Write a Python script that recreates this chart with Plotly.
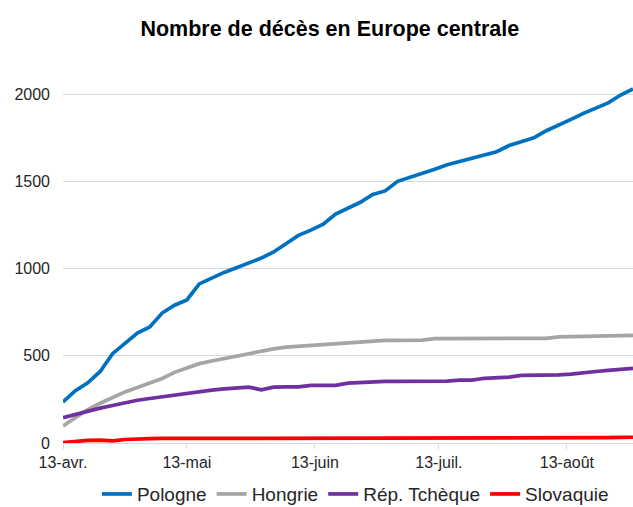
import pandas as pd
import plotly.graph_objects as go

# Dates every 3 days from 13 April to 29 August
dates = pd.date_range("2020-04-13", periods=47, freq="3D")

pologne = [235, 300, 345, 410, 512, 570, 630, 665, 745, 790, 820, 912, 945, 978, 1005, 1030,
           1060, 1095, 1145, 1190, 1220, 1255, 1313, 1345, 1380, 1425, 1445, 1500, 1522, 1545,
           1570, 1595, 1615, 1630, 1655, 1670, 1705, 1728, 1750, 1790, 1820, 1855, 1890, 1920,
           1950, 1995, 2030]
hongrie = [98, 145, 192, 228, 262, 293, 318, 345, 370, 405, 428, 455, 470, 485, 500, 515,
           528, 540, 550, 555, 560, 567, 570, 575, 578, 585, 588, 588, 588, 590,
           598, 598, 598, 598, 598, 598, 598, 598, 598, 600, 608, 610, 611, 611,
           615, 616, 617]
tcheque = [145, 165, 184, 200, 215, 232, 245, 255, 265, 275, 288, 295, 303, 310, 316, 320,
           305, 320, 322, 322, 330, 330, 330, 343, 348, 353, 353, 353, 353, 353,
           353, 355, 360, 360, 371, 372, 378, 388, 388, 390, 390, 395, 405, 410,
           416, 422, 428]
slovaquie = [2, 10, 15, 17, 12, 20, 24, 25, 26, 26, 27, 28, 28, 28, 28, 28,
             28, 28, 28, 28, 28, 28, 28, 28, 28, 28, 28, 28, 28, 28,
             28, 28, 28, 28, 28, 28, 28, 28, 28, 28, 28, 28, 31, 31,
             31, 32, 33]

series = [
    ("Pologne", pologne, "#0070C0"),
    ("Hongrie", hongrie, "#A5A5A5"),
    ("Rép. Tchèque", tcheque, "#7030A0"),
    ("Slovaquie", slovaquie, "#FF0000"),
]

tick_dates = ["2020-04-13", "2020-05-13", "2020-06-13", "2020-07-13", "2020-08-13"]
tick_labels = ["13-avr.", "13-mai", "13-juin", "13-juil.", "13-août"]
y_ticks = [0, 500, 1000, 1500, 2000]

fig = go.Figure()
for name, vals, color in series:
    fig.add_trace(go.Scatter(x=dates, y=vals, name=name, mode="lines",
                             line=dict(color=color, width=3.7)))

fig.update_layout(
    width=633, height=507,
    margin=dict(l=63, r=0, t=50, b=64, autoexpand=False),
    paper_bgcolor="white", plot_bgcolor="white",
    font=dict(family="Liberation Sans, Arial, sans-serif", size=16, color="#262626"),
    title=dict(text="<b>Nombre de décès en Europe centrale</b>",
               x=0.521, xanchor="center", xref="container",
               y=1 - 28 / 507, yanchor="middle", yref="container",
               font=dict(size=21.5, color="#000000")),
    showlegend=True,
    legend=dict(orientation="h", x=0.513, xanchor="center", y=-0.13, yanchor="middle",
                font=dict(size=19, color="#262626"), itemwidth=30,
                bgcolor="rgba(0,0,0,0)"),
    xaxis=dict(range=["2020-04-13", "2020-08-29"], tickvals=tick_dates, ticktext=tick_labels,
               showgrid=False, showline=True, linecolor="#D9D9D9", linewidth=1,
               ticks="outside", ticklen=5, tickcolor="#D9D9D9",
               tickfont=dict(size=16), zeroline=False),
    yaxis=dict(range=[0, 2253], tickvals=y_ticks, showgrid=True, gridcolor="#D9D9D9",
               gridwidth=1, zeroline=False, showline=False, ticks="",
               ticklabelstandoff=12, tickfont=dict(size=16)),
)

fig.write_html("out.html", config={"displayModeBar": False},
               post_script="document.body.style.margin='0';document.body.style.overflow='hidden';")
